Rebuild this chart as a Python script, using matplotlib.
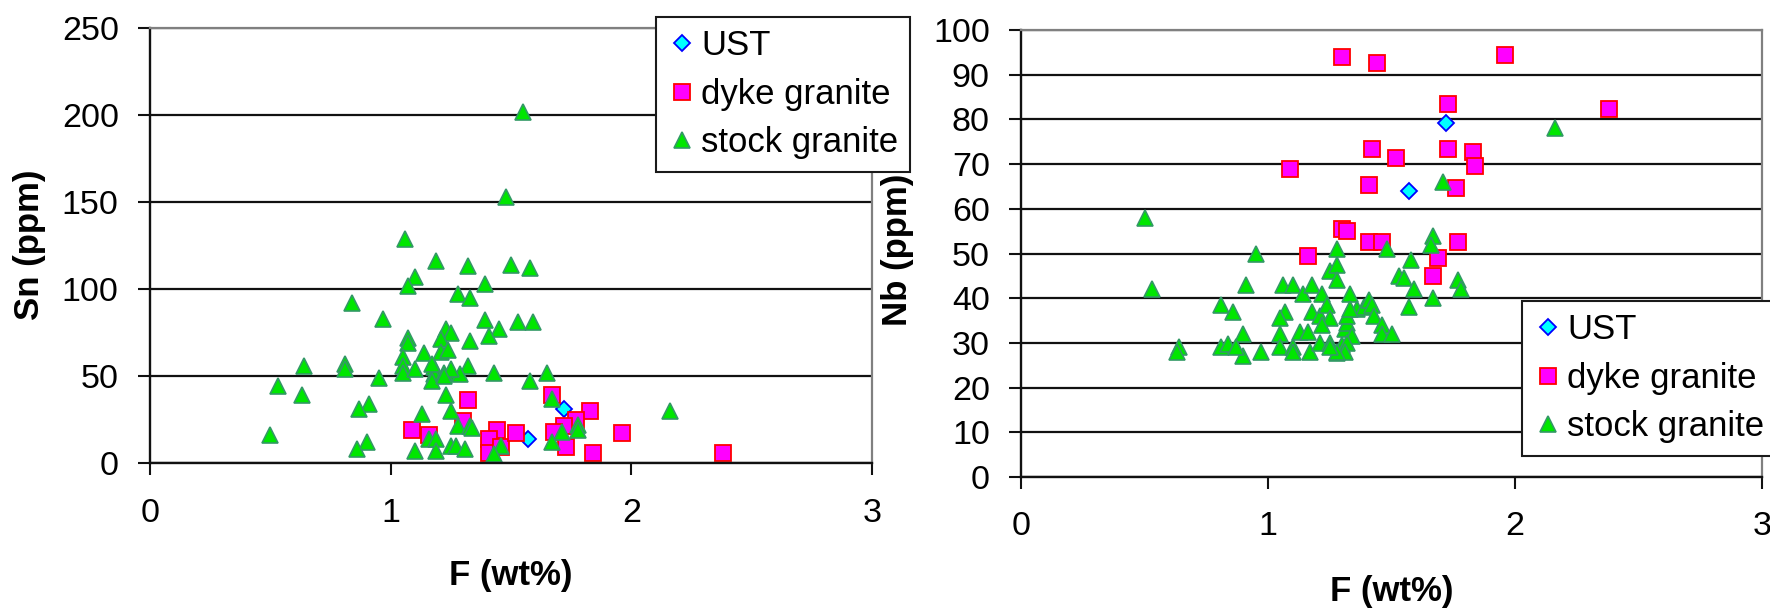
import matplotlib
matplotlib.use("Agg")
import matplotlib.pyplot as plt

plt.rcParams['font.family'] = ['Liberation Sans', 'DejaVu Sans']

# ---- Sn vs F (left chart) ----
sn_ust_f = [1.57, 1.72]
sn_ust = [14, 31]

sn_dyke_f = [1.09, 1.16, 1.32, 1.30, 1.44, 1.41, 1.41, 1.46, 1.52, 1.67,
             1.83, 1.77, 1.72, 1.68, 1.73, 1.84, 1.96, 2.38]
sn_dyke = [19, 16, 36, 24, 19, 14, 6, 9, 17, 39,
           30, 25, 21, 18, 9, 6, 17, 6]

sn_stock_f = [1.06, 1.19, 1.10, 1.07, 0.84, 0.97, 1.07, 1.07, 1.14, 1.05,
              1.05, 1.05, 1.10, 1.18, 1.18, 1.17, 0.64, 0.81, 0.81, 0.95,
              0.53, 0.63, 0.91, 0.87, 1.13, 0.50, 0.90, 0.86, 1.10, 1.16,
              1.19, 1.19, 1.55, 1.48, 1.32, 1.50, 1.58, 1.39, 1.28, 1.33,
              1.39, 1.45, 1.53, 1.59, 1.41, 1.23, 1.25, 1.21, 1.33, 1.21,
              1.24, 1.17, 1.25, 1.22, 1.32, 1.29, 1.43, 1.58, 1.65, 1.23,
              1.25, 1.28, 1.33, 1.34, 1.25, 1.27, 1.31, 1.46, 1.43, 1.67,
              1.71, 1.78, 1.78, 1.67, 2.16, 1.25, 1.22]
sn_stock = [129, 116, 107, 102, 92, 83, 72, 69, 63, 61,
            56, 52, 54, 55, 51, 47, 56, 57, 54, 49,
            44, 39, 34, 31, 28, 16, 12, 8, 7, 14,
            14, 7, 202, 153, 113, 114, 112, 103, 97, 95,
            82, 77, 81, 81, 73, 77, 75, 71, 70, 64,
            65, 57, 52, 52, 56, 51, 52, 47, 52, 39,
            30, 21, 21, 20, 10, 10, 8, 10, 5, 37,
            18, 22, 19, 12, 30, 54, 50]

# ---- Nb vs F (right chart) ----
nb_ust_f = [1.57, 1.72]
nb_ust = [64, 79.3]

nb_dyke_f = [1.30, 1.44, 1.96, 1.73, 1.09, 1.42, 1.73, 1.52, 1.83, 1.84,
             1.41, 1.76, 1.30, 1.32, 1.16, 1.41, 1.46, 1.77, 1.69, 1.67, 2.38]
nb_dyke = [94, 92.6, 94.3, 83.5, 69, 73.4, 73.4, 71.3, 72.6, 69.6,
           65.4, 64.6, 55.5, 55, 49.5, 52.5, 52.5, 52.5, 49, 45, 82.4]

nb_stock_f = [0.50, 0.53, 0.95, 0.91, 0.81, 0.86, 0.64, 0.63, 0.81, 0.84,
              0.90, 0.90, 0.87, 0.97, 1.06, 1.10, 1.14, 1.18, 1.22, 1.25,
              1.28, 1.28, 1.28, 1.33, 1.07, 1.05, 1.05, 1.05, 1.10, 1.10,
              1.18, 1.21, 1.24, 1.25, 1.22, 1.13, 1.16, 1.17, 1.21, 1.25,
              1.28, 1.30, 1.31, 1.32, 1.32, 1.36, 2.16, 1.71, 1.67, 1.66,
              1.48, 1.58, 1.53, 1.55, 1.59, 1.77, 1.78, 1.57, 1.67, 1.39,
              1.41, 1.42, 1.43, 1.46, 1.46, 1.50, 1.33, 1.34, 1.32, 1.31,
              1.28, 1.25]
nb_stock = [58, 42, 50, 43, 38.5, 37, 29, 28, 29, 29.8,
            32, 27, 29, 28, 43, 43, 41, 43, 41, 46,
            47.5, 51, 44, 41, 37, 35.5, 32, 29, 29, 28,
            37, 36, 38.5, 35.5, 34, 32.5, 32.5, 28, 30, 30,
            27.7, 29.5, 33, 34.5, 36, 37.5, 78, 66, 54, 52,
            51, 48.6, 45, 44.5, 42, 44, 42, 38, 40, 38,
            39.5, 38.5, 36, 34, 32, 32, 37.5, 31.5, 30, 28,
            28, 29]

series_names = ['UST', 'dyke granite', 'stock granite']

W, H = 1770, 611
fig = plt.figure(figsize=(W / 100, H / 100), dpi=100)


def px_axes(x0, y0, x1, y1):
    # pixel box (top-left origin) -> figure axes
    return fig.add_axes([x0 / W, 1 - y1 / H, (x1 - x0) / W, (y1 - y0) / H])


def style_axes(ax, ylim, ystep, ylabel, xpad):
    ax.set_xlim(0, 3)
    ax.set_ylim(*ylim)
    ax.set_xticks([0, 1, 2, 3])
    ax.set_yticks(range(ylim[0], ylim[1] + 1, ystep))
    ax.set_axisbelow(True)
    ax.yaxis.grid(True, color='#111111', lw=1.6)
    ax.xaxis.grid(False)
    for side in ('left', 'bottom'):
        ax.spines[side].set_color('#111111')
        ax.spines[side].set_linewidth(1.7)
    for side in ('right', 'top'):
        ax.spines[side].set_color('#808080')
        ax.spines[side].set_linewidth(1.6)
    ax.tick_params(axis='both', direction='out', length=8.5, width=1.5,
                   color='#111111', labelsize=24.5)
    ax.tick_params(axis='x', pad=xpad)
    ax.tick_params(axis='y', pad=14)
    ax.set_xlabel('F (wt%)', fontsize=25, fontweight='bold', va='center')
    ax.set_ylabel(ylabel, fontsize=25, fontweight='bold', va='center')


def draw_series(ax, data):
    (uf, uv), (df, dv), (sf, sv) = data
    ax.plot(uf, uv, ls='none', marker='D', ms=8.6, mfc='#00FFFF',
            mec='#0000FF', mew=1.3, label=series_names[0], clip_on=False)
    ax.plot(df, dv, ls='none', marker='s', ms=11, mfc='#FF00FF',
            mec='#FF0000', mew=1.3, label=series_names[1], clip_on=False)
    ax.plot(sf, sv, ls='none', marker='^', ms=12, mfc='#00E600',
            mec='#339966', mew=1.2, label=series_names[2], clip_on=False)


def add_legend(ax, x0, y0):
    leg = ax.legend(loc='upper left', bbox_to_anchor=(x0 / W, 1 - y0 / H),
                    bbox_transform=fig.transFigure, fontsize=25,
                    frameon=True, fancybox=False, framealpha=1,
                    edgecolor='#1a1a1a', borderaxespad=0, borderpad=0.35,
                    handlelength=0.8, handletextpad=0.15, labelspacing=0.45,
                    numpoints=1)
    leg.get_frame().set_linewidth(1.5)
    leg.set_zorder(10)
    return leg


# left chart
ax1 = px_axes(150, 28, 872, 463)
draw_series(ax1, [(sn_ust_f, sn_ust), (sn_dyke_f, sn_dyke), (sn_stock_f, sn_stock)])
style_axes(ax1, (0, 250), 50, 'Sn (ppm)', 17)
ax1.xaxis.set_label_coords(0.5, (463 - 575) / 435)
ax1.yaxis.set_label_coords((29 - 150) / 722, (463 - 245) / 435)
add_legend(ax1, 656, 17)

# right chart
ax2 = px_axes(1021, 30, 1762, 477)
draw_series(ax2, [(nb_ust_f, nb_ust), (nb_dyke_f, nb_dyke), (nb_stock_f, nb_stock)])
style_axes(ax2, (0, 100), 10, 'Nb (ppm)', 16)
ax2.xaxis.set_label_coords(0.5, (477 - 592) / 447)
ax2.yaxis.set_label_coords((897 - 1021) / 741, (477 - 250) / 447)
add_legend(ax2, 1522, 301)

fig.savefig('out.png', dpi=100)
